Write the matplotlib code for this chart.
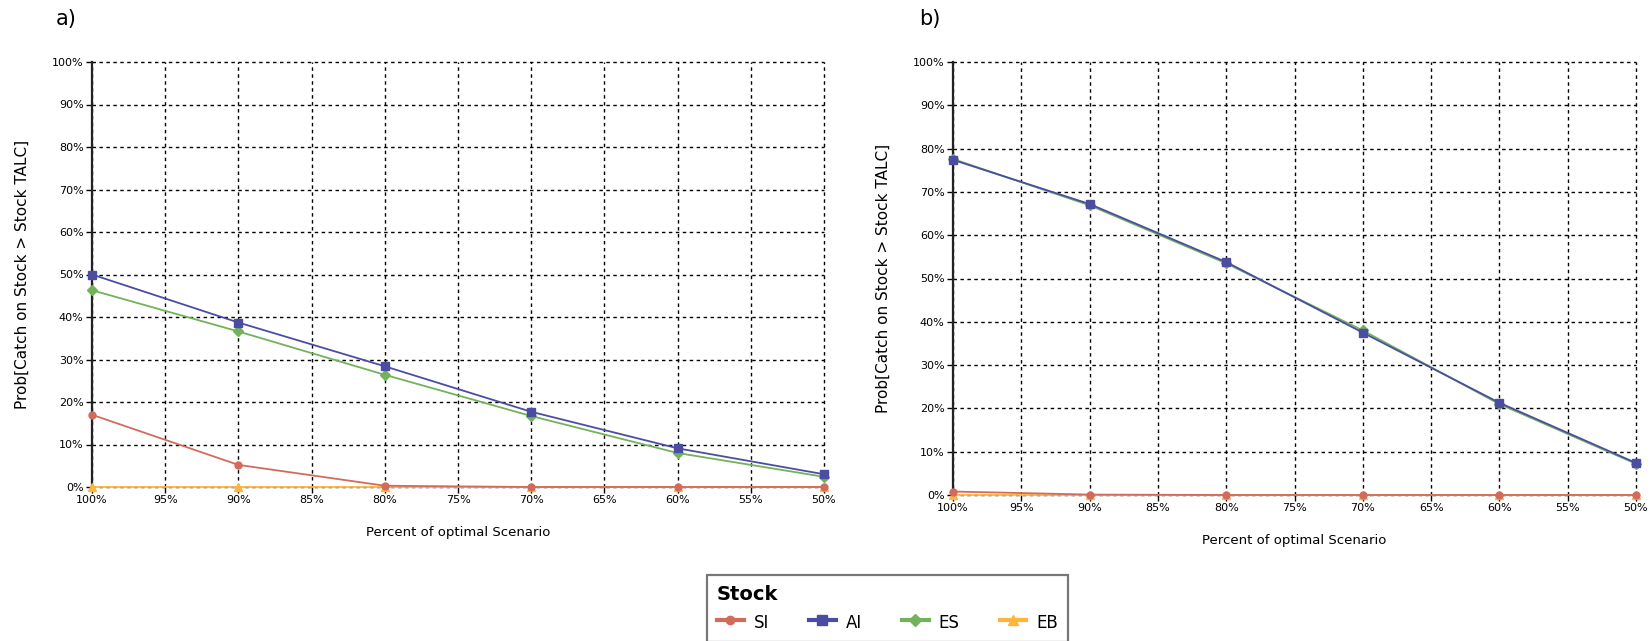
import matplotlib
matplotlib.use('Agg')
import matplotlib.pyplot as plt
from matplotlib.ticker import FuncFormatter, MultipleLocator
from matplotlib.lines import Line2D

# percent of optimal scenario (x axis runs from 100% down to 50%)
scenario = [100, 90, 80, 70, 60, 50]

# a) probability of catch exceeding stock TALC
a_si = [17.0, 5.2, 0.3, 0.0, 0.0, 0.0]
a_ai = [50.0, 38.7, 28.4, 17.7, 9.1, 3.0]
a_es = [46.3, 36.6, 26.4, 16.7, 8.0, 2.4]
a_eb = [0.0, 0.0, 0.0, 0.0, 0.0, 0.0]

# b)
b_si = [0.8, 0.1, 0.0, 0.0, 0.0, 0.0]
b_ai = [77.4, 67.2, 53.8, 37.5, 21.3, 7.4]
b_es = [77.6, 66.9, 53.5, 38.0, 21.0, 7.2]
b_eb = [0.0, 0.0, 0.0, 0.0, 0.0, 0.0]

stocks = ['SI', 'AI', 'ES', 'EB']
colors = {'SI': '#D36B5D', 'AI': '#4B4DA3', 'ES': '#72B25A', 'EB': '#FFB43C'}
markers = {'SI': 'o', 'AI': 's', 'ES': 'D', 'EB': '^'}
msizes = {'SI': 5, 'AI': 6, 'ES': 5, 'EB': 6}

fig = plt.figure(figsize=(16.5, 6.41), dpi=100)
fig.patch.set_facecolor('white')

ax_a = fig.add_axes([92 / 1650, 1 - 487 / 641, 732 / 1650, 425 / 641])
ax_b = fig.add_axes([953 / 1650, 1 - 495 / 641, 683 / 1650, 433 / 641])

pct = FuncFormatter(lambda v, p: f'{v:.0f}%')


def draw_panel(ax, series, tag):
    # EB drawn first so the other series sit on top of it
    for name in ['EB', 'ES', 'AI', 'SI']:
        ax.plot(scenario, series[name], color=colors[name], lw=1.3,
                marker=markers[name], ms=msizes[name], clip_on=False,
                zorder=3)
    ax.set_xlim(100, 50)
    ax.set_ylim(0, 100)
    ax.xaxis.set_major_locator(MultipleLocator(5))
    ax.yaxis.set_major_locator(MultipleLocator(10))
    ax.xaxis.set_major_formatter(pct)
    ax.yaxis.set_major_formatter(pct)
    ax.grid(True, color='black', linestyle=(0, (2.5, 2.5)), lw=1.0)
    ax.set_axisbelow(True)
    # keep the edge gridlines (100% and 50%) fully drawn
    for gl in ax.get_xgridlines() + ax.get_ygridlines():
        gl.set_clip_on(False)
    for side in ['top', 'right', 'bottom']:
        ax.spines[side].set_visible(False)
    ax.spines['left'].set_linewidth(1.6)
    ax.spines['left'].set_color('#222222')
    ax.tick_params(axis='both', labelsize=8, length=4, width=1,
                   pad=2, color='black')
    ax.set_xlabel('Percent of optimal Scenario', fontsize=9.5, labelpad=15)
    ax.set_ylabel('Prob[Catch on Stock > Stock TALC]', fontsize=11,
                  labelpad=16)
    ax.text(-0.05, 1.10, tag, transform=ax.transAxes, fontsize=15,
            ha='left', va='center')


draw_panel(ax_a, {'SI': a_si, 'AI': a_ai, 'ES': a_es, 'EB': a_eb}, 'a)')
draw_panel(ax_b, {'SI': b_si, 'AI': b_ai, 'ES': b_es, 'EB': b_eb}, 'b)')

handles = [Line2D([], [], color=colors[s], marker=markers[s], lw=3,
                  ms=msizes[s] + 1) for s in stocks]
leg = fig.legend(handles, stocks, loc='upper left',
                 bbox_to_anchor=(707 / 1650, 1 - 575 / 641), ncol=4,
                 title='Stock', alignment='left', fontsize=12,
                 title_fontproperties={'weight': 'bold', 'size': 14},
                 frameon=True, fancybox=False, handlelength=1.6,
                 handleheight=1.4, columnspacing=2.4, borderpad=0.6,
                 handletextpad=0.6, borderaxespad=0)
leg.get_frame().set_edgecolor('#555555')
leg.get_frame().set_linewidth(1.6)

fig.savefig('out.png', dpi=100, facecolor='white')
